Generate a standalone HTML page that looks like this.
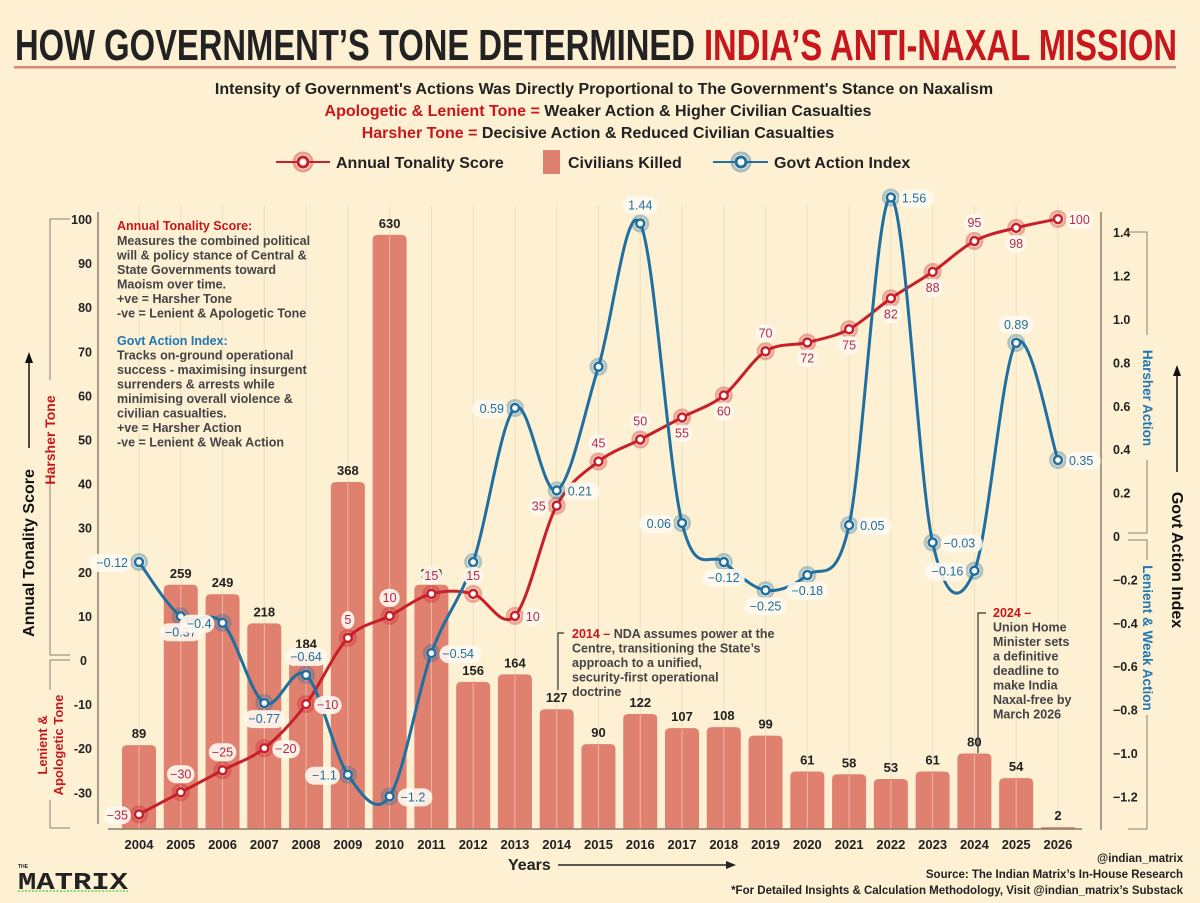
<!DOCTYPE html>
<html><head><meta charset="utf-8">
<style>
html,body{margin:0;padding:0;background:#fdf0d3;}
svg{display:block;font-family:"Liberation Sans",sans-serif;}
</style></head>
<body>
<svg id="chart" width="1200" height="903" viewBox="0 0 1200 903">
<rect x="0" y="0" width="1200" height="903" fill="#fdf0d3"/>
<g>
<text x="596" y="60" text-anchor="middle" font-family="Liberation Sans Narrow, Liberation Sans, sans-serif" font-weight="bold" font-size="44" textLength="1162" lengthAdjust="spacingAndGlyphs" fill="#222">HOW GOVERNMENT’S TONE DETERMINED <tspan fill="#c8161d">INDIA’S ANTI-NAXAL MISSION</tspan></text>
<rect x="14" y="66" width="1162" height="2.5" fill="#d98a78"/>
</g>
<g font-weight="bold" font-size="16" text-anchor="middle" fill="#222">
<text x="604" y="94">Intensity of Government's Actions Was Directly Proportional to The Government's Stance on Naxalism</text>
<text x="598" y="116"><tspan fill="#c8161d">Apologetic &amp; Lenient Tone =</tspan> Weaker Action &amp; Higher Civilian Casualties</text>
<text x="598" y="138"><tspan fill="#c8161d">Harsher Tone =</tspan> Decisive Action &amp; Reduced Civilian Casualties</text>
</g>
<g>
<g>
<line x1="276" y1="162" x2="330" y2="162" stroke="#c8202a" stroke-width="2"/>
<circle cx="303" cy="162" r="9" fill="none" stroke="#c8202a" stroke-opacity="0.4" stroke-width="3"/>
<circle cx="303" cy="162" r="5" fill="#fff" stroke="#c8202a" stroke-width="3"/>
<text x="336" y="168" font-size="16" font-weight="bold" fill="#222">Annual Tonality Score</text>
</g>
<g>
<rect x="543" y="150" width="17" height="24" fill="#e0806f"/>
<text x="568" y="168" font-size="16" font-weight="bold" fill="#222">Civilians Killed</text>
</g>
<g>
<line x1="713" y1="162" x2="768" y2="162" stroke="#1f6fa0" stroke-width="2"/>
<circle cx="741" cy="162" r="9" fill="none" stroke="#1f6fa0" stroke-opacity="0.4" stroke-width="3"/>
<circle cx="741" cy="162" r="5" fill="#fff" stroke="#1f6fa0" stroke-width="3"/>
<text x="774" y="168" font-size="16" font-weight="bold" fill="#222">Govt Action Index</text>
</g>
</g>
<g id="grid"></g>
<g id="bars"></g>
<g id="axes"></g>
<g font-size="12.5" font-weight="bold" fill="#444">
<text x="117" y="230" fill="#c8161d">Annual Tonality Score:</text>
<text x="117" y="245">Measures the combined political</text>
<text x="117" y="259.5">will &amp; policy stance of Central &amp;</text>
<text x="117" y="274">State Governments toward</text>
<text x="117" y="288.5">Maoism over time.</text>
<text x="117" y="303">+ve = Harsher Tone</text>
<text x="117" y="317.5">-ve = Lenient &amp; Apologetic Tone</text>
<text x="117" y="345" fill="#1f78b4">Govt Action Index:</text>
<text x="117" y="359.5">Tracks on-ground operational</text>
<text x="117" y="374">success - maximising insurgent</text>
<text x="117" y="388.5">surrenders &amp; arrests while</text>
<text x="117" y="403">minimising overall violence &amp;</text>
<text x="117" y="417.5">civilian casualties.</text>
<text x="117" y="432">+ve = Harsher Action</text>
<text x="117" y="446.5">-ve = Lenient &amp; Weak Action</text>
</g>
<g font-size="12.5" font-weight="bold" fill="#444">
<polyline points="558,690 558,633 564,633" fill="none" stroke="#333" stroke-width="1.2"/>
<text x="572" y="638"><tspan fill="#c8161d">2014 –</tspan> NDA assumes power at the</text>
<text x="572" y="652.5">Centre, transitioning the State’s</text>
<text x="572" y="667">approach to a unified,</text>
<text x="572" y="681.5">security-first operational</text>
<text x="572" y="696">doctrine</text>
</g>
<g font-size="12.5" font-weight="bold" fill="#444">
<polyline points="978,753 978,613 986,613" fill="none" stroke="#333" stroke-width="1.2"/>
<text x="993" y="617" fill="#c8161d">2024 –</text>
<text x="993" y="631.5">Union Home</text>
<text x="993" y="646">Minister sets</text>
<text x="993" y="660.5">a definitive</text>
<text x="993" y="675">deadline to</text>
<text x="993" y="689.5">make India</text>
<text x="993" y="704">Naxal-free by</text>
<text x="993" y="718.5">March 2026</text>
</g>
<g id="lines"></g>
<g id="labels"></g>
<g>
<text x="508" y="870" font-size="16" font-weight="bold" fill="#222">Years</text>
<line x1="558" y1="865" x2="728" y2="865" stroke="#222" stroke-width="1.5"/>
<polygon points="736,865 726,861 726,869" fill="#222"/>
<g font-size="11.5" font-weight="bold" fill="#222" text-anchor="end">
<text x="1183" y="862">@indian_matrix</text>
<text x="1183" y="878">Source: The Indian Matrix’s In-House Research</text>
<text x="1183" y="894">*For Detailed Insights &amp; Calculation Methodology, Visit @indian_matrix’s Substack</text>
</g>
<g>
<text x="18" y="868" font-size="5" font-weight="bold" fill="#222">THE</text>
<text x="18" y="889" font-family="Liberation Mono, monospace" font-size="24" font-weight="bold" fill="#222" textLength="110" lengthAdjust="spacingAndGlyphs">MATRIX</text>
<line x1="18" y1="891" x2="128" y2="891" stroke="#5fd35f" stroke-width="1.5" stroke-dasharray="2,1.5"/>
</g>
</g>
</svg>
<script>
const years = [2004,2005,2006,2007,2008,2009,2010,2011,2012,2013,2014,2015,2016,2017,2018,2019,2020,2021,2022,2023,2024,2025,2026];
const civilians = [89,259,249,218,184,368,630,259,156,164,127,90,122,107,108,99,61,58,53,61,80,54,2];
const tonality = [-35,-30,-25,-20,-10,5,10,15,15,10,35,45,50,55,60,70,72,75,82,88,95,98,100];
const govtAction = [-0.12,-0.37,-0.4,-0.77,-0.64,-1.1,-1.2,-0.54,-0.12,0.59,0.21,0.78,1.44,0.06,-0.12,-0.25,-0.18,0.05,1.56,-0.03,-0.16,0.89,0.35];
const govtShown = [1,1,1,1,1,1,1,1,0,1,1,0,1,1,1,1,1,1,1,1,1,1,1];
const leftTicks = [100,90,80,70,60,50,40,30,20,10,0,-10,-20,-30];
const rightTicks = [1.4,1.2,1.0,0.8,0.6,0.4,0.2,0,-0.2,-0.4,-0.6,-0.8,-1.0,-1.2];
const tonPos = ['l','a','a','r','r','a','a','a','a','r','l','a','a','b','b','a','b','b','b','b','a','b','r'];
const govPos = ['l','b','l','b','a','l','r','r','a','l','r','a','a','l','b','b','b','r','r','r','l','a','r'];

const NS='http://www.w3.org/2000/svg';
const xS = i => 139 + i*41.77;
const yL = v => 660 - v*4.41;
const yR = v => 536 - v*217;
const yB = v => 829 - v*0.943;
function mk(tag, attrs, parent){const e=document.createElementNS(NS,tag);for(const k in attrs)e.setAttribute(k,attrs[k]);parent.appendChild(e);return e;}
const grid=document.getElementById('grid'), bars=document.getElementById('bars'), axes=document.getElementById('axes'), lines=document.getElementById('lines'), labels=document.getElementById('labels');

years.forEach((yr,i)=>{
  const x=xS(i);
  const g=mk('line',{x1:x,y1:205,x2:x,y2:829,stroke:'#ece0c4','stroke-width':1},grid);
  
  
  const top=yB(civilians[i]), h=829-top, w=34, r=Math.min(5,h/2);
  const p=mk('path',{d:`M${x-w/2},829 L${x-w/2},${top+r} Q${x-w/2},${top} ${x-w/2+r},${top} L${x+w/2-r},${top} Q${x+w/2},${top} ${x+w/2},${top+r} L${x+w/2},829 Z`,fill:'#e0806f'},bars);
  
  
  mk('line',{x1:x,y1:top+1,x2:x,y2:829,stroke:'#f0b8a8','stroke-width':1},bars);
  const t=mk('text',{x:x,y:top-7,'text-anchor':'middle','font-size':13,'font-weight':'bold',fill:'#222'},bars);
  t.textContent=civilians[i];
  
  
  const xl=mk('text',{x:x,y:849,'text-anchor':'middle','font-size':13,'font-weight':'bold',fill:'#222'},axes);
  xl.textContent=yr;
  
  
});
mk('line',{x1:108,y1:829,x2:1082,y2:829,stroke:'#8a7a6a','stroke-width':1.5},axes);
mk('line',{x1:98,y1:212,x2:98,y2:824,stroke:'#8a8070','stroke-width':1.5},axes);
mk('line',{x1:1101,y1:212,x2:1101,y2:830,stroke:'#8a8070','stroke-width':1.5},axes);
leftTicks.forEach(v=>{
  const t=mk('text',{x:(v===0?87:92),y:yL(v)+5,'text-anchor':'end','font-size':12.5,'font-weight':'bold',fill:'#222'},axes);
  t.textContent=v;
  
  
});
rightTicks.forEach(v=>{
  const t=mk('text',{x:1113,y:yR(v)+5,'font-size':12.5,'font-weight':'bold',fill:'#222'},axes);
  t.textContent=v===0?'0':(v<0?'−':'')+Math.abs(v).toFixed(1);
  
  
});
// brackets & axis titles
const ax=document.getElementById('axes');
ax.insertAdjacentHTML('beforeend',`
<polyline points="70,219 50,219 50,655 70,655" fill="none" stroke="#8a8070" stroke-width="1"/>
<polyline points="70,660 50,660 50,828 70,828" fill="none" stroke="#8a8070" stroke-width="1"/>
<rect x="40" y="380" width="20" height="100" fill="#fdf0d3"/>
<text transform="translate(55,440) rotate(-90)" text-anchor="middle" font-size="14" font-weight="bold" fill="#c8161d">Harsher Tone</text>
<rect x="36" y="690" width="30" height="110" fill="#fdf0d3"/>
<text transform="translate(47,745) rotate(-90)" text-anchor="middle" font-size="13" font-weight="bold" fill="#c8161d"><tspan x="0" dy="0">Lenient &amp;</tspan><tspan x="0" dy="16">Apologetic Tone</tspan></text>
<text transform="translate(34,553) rotate(-90)" text-anchor="middle" font-size="16" font-weight="bold" fill="#111">Annual Tonality Score</text>
<line x1="29" y1="448" x2="29" y2="362" stroke="#111" stroke-width="1.5"/>
<polygon points="29,352 25,363 33,363" fill="#111"/>
<polyline points="1128,232 1147,232 1147,533 1128,533" fill="none" stroke="#8a8070" stroke-width="1"/>
<polyline points="1128,540 1147,540 1147,829 1128,829" fill="none" stroke="#8a8070" stroke-width="1"/>
<rect x="1138" y="335" width="20" height="125" fill="#fdf0d3"/>
<text transform="translate(1143,398) rotate(90)" text-anchor="middle" font-size="13.5" font-weight="bold" fill="#1f78b4">Harsher Action</text>
<rect x="1138" y="560" width="20" height="155" fill="#fdf0d3"/>
<text transform="translate(1143,638) rotate(90)" text-anchor="middle" font-size="13.5" font-weight="bold" fill="#1f78b4">Lenient &amp; Weak Action</text>
<text transform="translate(1172,560) rotate(90)" text-anchor="middle" font-size="16" font-weight="bold" fill="#111">Govt Action Index</text>
<line x1="1177" y1="472" x2="1177" y2="375" stroke="#111" stroke-width="1.5"/>
<polygon points="1177,365 1173,376 1181,376" fill="#111"/>
`);

function smooth(pts){
  let d=`M${pts[0][0]},${pts[0][1]}`;
  for(let i=0;i<pts.length-1;i++){
    const p0=pts[Math.max(0,i-1)],p1=pts[i],p2=pts[i+1],p3=pts[Math.min(pts.length-1,i+2)];
    const t=0.5/3*2;
    const c1=[p1[0]+(p2[0]-p0[0])*t/2*1.0, p1[1]+(p2[1]-p0[1])*t/2];
    const c2=[p2[0]-(p3[0]-p1[0])*t/2, p2[1]-(p3[1]-p1[1])*t/2];
    d+=` C${c1[0]},${c1[1]} ${c2[0]},${c2[1]} ${p2[0]},${p2[1]}`;
  }
  return d;
}
const tonPts=tonality.map((v,i)=>[xS(i),yL(v)]);
const govPts=govtAction.map((v,i)=>[xS(i),yR(v)]);
const tl=mk('path',{d:smooth(tonPts),fill:'none',stroke:'#c8202a','stroke-width':3},lines);


const gl=mk('path',{d:smooth(govPts),fill:'none',stroke:'#1f6fa0','stroke-width':3},lines);



function marker(p,color,name){
  mk('circle',{cx:p[0],cy:p[1],r:7.5,fill:'none',stroke:color,'stroke-opacity':0.35,'stroke-width':3},lines);
  const c=mk('circle',{cx:p[0],cy:p[1],r:4,fill:'#fff',stroke:color,'stroke-width':2.5},lines);
  
  
}
function label(p,txt,pos,color,name){
  let x=p[0],y=p[1],anchor='middle';
  if(pos==='a'){y-=14;} else if(pos==='b'){y+=20;} else if(pos==='l'){x-=11;anchor='end';y+=5;} else {x+=11;anchor='start';y+=5;}
  const w=txt.length*7.2+6;
  const rx= anchor==='middle'?x-w/2:(anchor==='end'?x-w+3:x-3);
  mk('rect',{x:rx,y:y-13,width:w,height:18,rx:9,fill:'#fffaf0','fill-opacity':0.9},labels);
  const t=mk('text',{x:x,y:y,'text-anchor':anchor,'font-size':12.5,fill:color},labels);
  t.textContent=txt;
  
  
}
tonPts.forEach((p,i)=>{
  marker(p,'#c8202a','tonality-point-'+years[i]);
  label(p,String(tonality[i]).replace('-','−'),tonPos[i],'#b8284a','tonality-label-'+years[i]);
});
govPts.forEach((p,i)=>{
  marker(p,'#1f6fa0','govt-action-point-'+years[i]);
  if(govtShown[i]) label(p,String(govtAction[i]).replace('-','−'),govPos[i],'#1f6fa0','govt-action-label-'+years[i]);
});
</script>
</body></html>
